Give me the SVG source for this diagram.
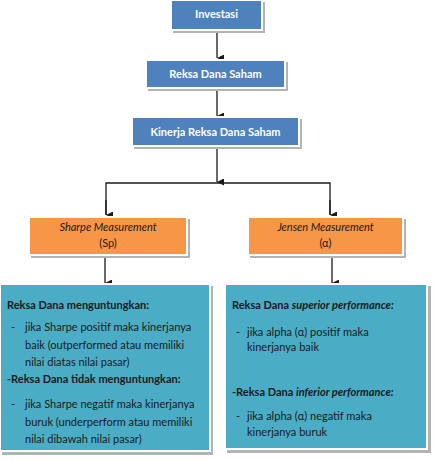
<svg xmlns="http://www.w3.org/2000/svg" width="435" height="461" viewBox="0 0 435 461">
<defs>
<marker id="ah" viewBox="0 0 8 8" refX="4" refY="8" markerWidth="7" markerHeight="7" markerUnits="userSpaceOnUse" orient="auto-start-reverse">
<path d="M0,0 L8,0 L4,8 Z" fill="#1a1a1a"/>
</marker>
<style>
.sh{fill:#b3b3b3;}
.bl{fill:#4F81BD;stroke:#ffffff;stroke-width:2;}
.or{fill:#F79646;stroke:#ffffff;stroke-width:2;}
.tl{fill:#4BACC6;stroke:#ffffff;stroke-width:2;}
.wt{font-family:Lato,"Liberation Sans",sans-serif;font-size:11px;font-weight:bold;fill:#ffffff;text-anchor:middle;}
.it{font-family:Lato,"Liberation Sans",sans-serif;font-size:11px;font-style:italic;fill:#1a1a1a;text-anchor:middle;}
.up{font-family:Lato,"Liberation Sans",sans-serif;font-size:11px;fill:#1a1a1a;text-anchor:middle;}
.bd{font-family:Lato,"Liberation Sans",sans-serif;font-size:11px;fill:#1a1a1a;}
.hd{font-family:Lato,"Liberation Sans",sans-serif;font-size:11px;font-weight:bold;fill:#1a1a1a;}
.cn{stroke:#1a1a1a;stroke-width:1.3;fill:none;}
</style>
</defs>
<g id="connectors">
<line class="cn" x1="217" y1="32" x2="217" y2="58" marker-end="url(#ah)"/>
<line class="cn" x1="217" y1="89" x2="217" y2="116" marker-end="url(#ah)"/>
<line class="cn" x1="217" y1="148" x2="217" y2="182" marker-end="url(#ah)"/>
<polyline class="cn" points="106,215 106,183 330,183 330,215"/>
<line class="cn" x1="106" y1="200" x2="106" y2="215" marker-end="url(#ah)"/>
<line class="cn" x1="330" y1="200" x2="330" y2="215" marker-end="url(#ah)"/>
<line class="cn" x1="105" y1="258" x2="105" y2="283" marker-end="url(#ah)"/>
<line class="cn" x1="332" y1="258" x2="332" y2="283" marker-end="url(#ah)"/>
</g>
<g id="investasi">
<rect class="sh" x="173" y="2" width="92" height="31"/>
<rect class="bl" x="171" y="0" width="91" height="30"/>
<text class="wt" x="216.5" y="18">Investasi</text>
</g>
<g id="reksa-dana-saham">
<rect class="sh" x="148" y="62" width="140" height="29"/>
<rect class="bl" x="146" y="60" width="139" height="28"/>
<text class="wt" x="215.5" y="78">Reksa Dana Saham</text>
</g>
<g id="kinerja">
<rect class="sh" x="134" y="119" width="168" height="30"/>
<rect class="bl" x="132" y="117" width="167" height="29"/>
<text class="wt" x="215.5" y="135.5">Kinerja Reksa Dana Saham</text>
</g>
<g id="sharpe">
<rect class="sh" x="31" y="219" width="159" height="39"/>
<rect class="or" x="29" y="217" width="158" height="38"/>
<text class="it" x="108" y="231">Sharpe Measurement</text>
<text class="up" x="108" y="247">(Sp)</text>
</g>
<g id="jensen">
<rect class="sh" x="250" y="219" width="156" height="39"/>
<rect class="or" x="248" y="217" width="155" height="38"/>
<text class="it" x="325.5" y="231">Jensen Measurement</text>
<text class="up" x="325.5" y="247">(α)</text>
</g>
<g id="sharpe-result">
<rect class="sh" x="2" y="286" width="211" height="169"/>
<rect class="tl" x="0" y="284" width="210" height="167"/>
<text class="hd" x="7" y="309">Reksa Dana menguntungkan:</text>
<text class="bd" x="11" y="331">-</text>
<text class="bd" x="25" y="331">jika Sharpe positif maka kinerjanya</text>
<text class="bd" x="25" y="348.5">baik (outperformed atau memiliki</text>
<text class="bd" x="25" y="366">nilai diatas nilai pasar)</text>
<text class="hd" x="7" y="383">-Reksa Dana tidak menguntungkan:</text>
<text class="bd" x="11" y="408">-</text>
<text class="bd" x="25" y="408">jika Sharpe negatif maka kinerjanya</text>
<text class="bd" x="25" y="425.5">buruk (underperform atau memiliki</text>
<text class="bd" x="25" y="443">nilai dibawah nilai pasar)</text>
</g>
<g id="jensen-result">
<rect class="sh" x="227" y="286" width="204" height="167"/>
<rect class="tl" x="225" y="284" width="202" height="165"/>
<text class="hd" x="232" y="309">Reksa Dana <tspan font-style="italic">superior performance:</tspan></text>
<text class="bd" x="236" y="336">-</text>
<text class="bd" x="247" y="336">jika alpha (α) positif maka</text>
<text class="bd" x="247" y="351">kinerjanya baik</text>
<text class="hd" x="232" y="396">-Reksa Dana <tspan font-style="italic">inferior performance:</tspan></text>
<text class="bd" x="236" y="420">-</text>
<text class="bd" x="247" y="420">jika alpha (α) negatif maka</text>
<text class="bd" x="247" y="436">kinerjanya buruk</text>
</g>
</svg>
